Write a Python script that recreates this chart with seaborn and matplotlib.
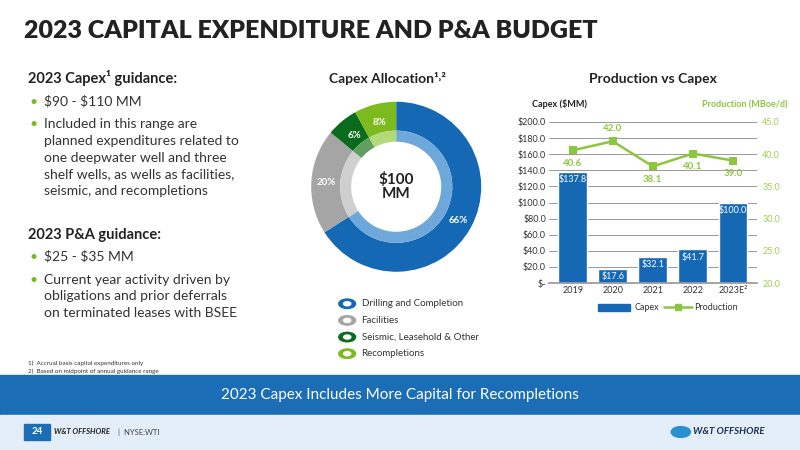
import matplotlib
matplotlib.use("Agg")
import matplotlib.pyplot as plt
import seaborn as sns
import pandas as pd
import numpy as np
from matplotlib.patches import Rectangle, Circle
from matplotlib.lines import Line2D

sns.set_theme(style="white")
plt.rcParams['font.family'] = ['Lato', 'DejaVu Sans']

years = ["2019", "2020", "2021", "2022", "2023E"]
capex = [137.8, 17.6, 32.1, 41.7, 100.0]
production = [40.6, 42.0, 38.1, 40.1, 39.0]
alloc_labels = ["Drilling and Completion", "Facilities", "Seismic, Leasehold & Other", "Recompletions"]
alloc_vals = [66, 20, 6, 8]

BLUE = "#1569b4"
GREY = "#a5a5a5"
DGREEN = "#0b6b1c"
LGREEN = "#7dba1e"
alloc_colors = [BLUE, GREY, DGREEN, LGREEN]
light_colors = ["#6ea7d9", "#cfcfcf", "#5e9e5e", "#b3d97a"]

fig = plt.figure(figsize=(8, 4.5), dpi=100)
fig.patch.set_facecolor("white")

fig.text(0.03, 0.915, "2023 CAPITAL EXPENDITURE AND P&A BUDGET", fontsize=18, fontweight="heavy", color="#222222")

fig.text(0.035, 0.815, "2023 Capex¹ guidance:", fontsize=10.5, fontweight="bold", color="#222222")
bul = "#7dba1e"
lines = [(0.765, "$90 - $110 MM", True), (0.715, "Included in this range are", True),
         (0.678, "planned expenditures related to", False), (0.641, "one deepwater well and three", False),
         (0.604, "shelf wells, as wells as facilities,", False), (0.567, "seismic, and recompletions", False)]
for y, t, b in lines:
    if b:
        fig.text(0.037, y, "•", fontsize=10, color=bul)
    fig.text(0.055, y, t.replace("$", r"\$"), fontsize=10, color="#333333")
fig.text(0.035, 0.468, "2023 P&A guidance:", fontsize=10.5, fontweight="bold", color="#222222")
lines2 = [(0.42, "$25 - $35 MM", True), (0.37, "Current year activity driven by", True),
          (0.333, "obligations and prior deferrals", False), (0.296, "on terminated leases with BSEE", False)]
for y, t, b in lines2:
    if b:
        fig.text(0.037, y, "•", fontsize=10, color=bul)
    fig.text(0.055, y, t.replace("$", r"\$"), fontsize=10, color="#333333")
fig.text(0.035, 0.188, "1)  Accrual basis capital expenditures only", fontsize=4.5, color="#333333")
fig.text(0.035, 0.172, "2)  Based on midpoint of annual guidance range", fontsize=4.5, color="#333333")

fig.add_artist(Rectangle((0, 0.078), 1, 0.089, transform=fig.transFigure, color="#1b6db6", zorder=0))
fig.text(0.5, 0.122, "2023 Capex Includes More Capital for Recompletions", fontsize=11, color="white", ha="center", va="center")
fig.add_artist(Rectangle((0, 0), 1, 0.078, transform=fig.transFigure, color="#e4eef8", zorder=0))
fig.add_artist(Rectangle((0.03, 0.022), 0.032, 0.036, transform=fig.transFigure, color="#1b6db6", zorder=1))
fig.text(0.046, 0.04, "24", fontsize=7, fontweight="bold", color="white", ha="center", va="center")
fig.text(0.067, 0.04, "W&T OFFSHORE", fontsize=5.5, fontweight="bold", style="italic", color="#222222", va="center")
fig.text(0.148, 0.04, "|  NYSE:WTI", fontsize=5.5, color="#444444", va="center")
fig.add_artist(Circle((0.851, 0.04), 0.012, transform=fig.transFigure, color="#2a8fd0"))
fig.text(0.866, 0.04, "W&T OFFSHORE", fontsize=7, fontweight="bold", style="italic", color="#1a3050", va="center")

# Donut
fig.text(0.484, 0.815, "Capex Allocation¹˒²", fontsize=10, fontweight="bold", color="#222222", ha="center")
ax_d = fig.add_axes([0.389, 0.396, 0.2125, 0.378])
ax_d.pie(alloc_vals, colors=alloc_colors, startangle=90, counterclock=False,
         radius=1.0, wedgeprops=dict(width=0.34, edgecolor="white", linewidth=0))
ax_d.pie(alloc_vals, colors=light_colors, startangle=90, counterclock=False,
         radius=0.66, wedgeprops=dict(width=0.13, edgecolor="white", linewidth=0))
ang = 90
for v in alloc_vals:
    mid = np.deg2rad(ang - v * 3.6 / 2)
    ang -= v * 3.6
    r = 0.78 if v < 10 else 0.83
    ax_d.text(r * np.cos(mid), r * np.sin(mid), f"{v}%", ha="center", va="center",
              fontsize=7, fontweight="bold", color="white")
ax_d.text(0, 0, "$100\nMM", ha="center", va="center", fontsize=11, fontweight="bold", color="#222222", linespacing=1.0)
ax_d.set_xlim(-1, 1); ax_d.set_ylim(-1, 1)
ax_d.set_aspect("equal")

ly = [0.325, 0.288, 0.251, 0.214]
for y, c, t in zip(ly, alloc_colors, alloc_labels):
    fig.add_artist(Circle((0.434, y), 0.0105, transform=fig.transFigure, color=c))
    fig.add_artist(Circle((0.434, y), 0.0045, transform=fig.transFigure, color="white"))
    fig.text(0.452, y, t, fontsize=7, color="#333333", va="center")

# Bar chart
fig.text(0.816, 0.815, "Production vs Capex", fontsize=10, fontweight="bold", color="#222222", ha="center")
ax = fig.add_axes([0.686, 0.371, 0.26, 0.358])
df = pd.DataFrame({"year": years, "capex": capex, "prod": production})
sns.barplot(data=df, x="year", y="capex", color=BLUE, saturation=1, width=0.72, ax=ax, zorder=2)
ax.set_ylim(0, 200)
ax.set_yticks(range(0, 201, 20))
ax.set_yticklabels(["$-"] + [f"${v:.1f}" for v in range(20, 201, 20)], fontsize=6.5, color="#333333")
ax.set_xticks(range(5))
ax.set_xticklabels(["2019", "2020", "2021", "2022", "2023E²"], fontsize=6.5, color="#333333")
ax.set_xlabel(""); ax.set_ylabel("")
ax.yaxis.grid(True, color="#888888", linewidth=0.6, zorder=0)
ax.set_axisbelow(True)
for s in ["top", "left", "right"]:
    ax.spines[s].set_visible(False)
ax.spines["bottom"].set_color("#999999")
ax.tick_params(axis="both", length=0, pad=2)
for i, v in enumerate(capex):
    ax.text(i, v - 4, f"${v:.1f}", ha="center", va="top", fontsize=6.5, color="white", zorder=5)

ax2 = ax.twinx()
sns.lineplot(x=list(range(5)), y=production, color="#8cc63f", marker="s", markersize=6,
             markeredgewidth=0, linewidth=1.8, ax=ax2)
ax2.set_ylim(20, 45)
ax2.set_yticks([20, 25, 30, 35, 40, 45])
ax2.set_yticklabels([f"{v:.1f}" for v in range(20, 46, 5)], fontsize=6.5, color="#9cd04a")
ax2.tick_params(axis="y", length=0, pad=4)
for s in ["top", "left", "right", "bottom"]:
    ax2.spines[s].set_visible(False)
offs = [-2.0, 2.0, -2.0, -2.0, -2.0]
for i, (v, o) in enumerate(zip(production, offs)):
    ax2.text(i, v + o, f"{v:.1f}", ha="center", va="center", fontsize=7, fontweight="bold", color="#8cc63f")
fig.text(0.665, 0.762, r"Capex (\$MM)", fontsize=6.5, fontweight="bold", color="#222222")
fig.text(0.985, 0.762, "Production (MBoe/d)", fontsize=6.5, fontweight="bold", color="#8cc63f", ha="right")

fig.add_artist(Rectangle((0.748, 0.31), 0.04, 0.014, transform=fig.transFigure, color=BLUE))
fig.text(0.793, 0.317, "Capex", fontsize=6.5, color="#333333", va="center")
fig.add_artist(Line2D([0.83, 0.865], [0.317, 0.317], transform=fig.transFigure, color="#8cc63f", lw=1.8))
fig.add_artist(Line2D([0.8475], [0.317], transform=fig.transFigure, color="#8cc63f", marker="s", markersize=5))
fig.text(0.868, 0.317, "Production", fontsize=6.5, color="#333333", va="center")

fig.savefig("out.png", dpi=100)
